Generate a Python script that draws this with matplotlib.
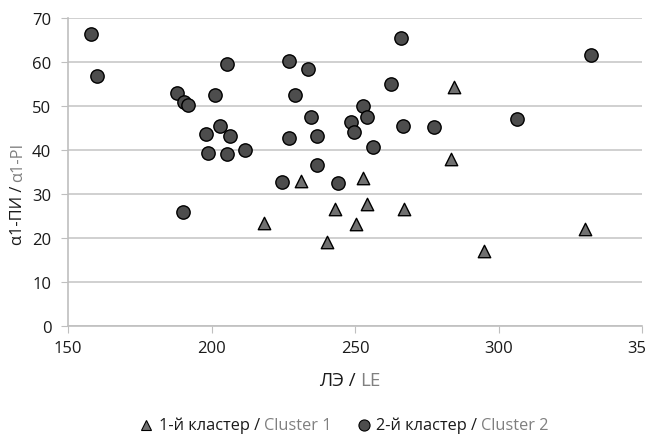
import matplotlib
matplotlib.use("Agg")
import matplotlib.pyplot as plt
from matplotlib.lines import Line2D

plt.rcParams['font.family'] = ['Open Sans', 'DejaVu Sans']

# Cluster 1 (triangles)
c1_x = [231.2, 284.5, 283.6, 252.8, 218.3, 240.3, 243.0, 254.1, 267.1, 250.5, 295.1, 330.2]
c1_y = [33.0, 54.4, 38.0, 33.6, 23.3, 19.1, 26.7, 27.7, 26.5, 23.1, 17.0, 22.0]

# Cluster 2 (circles)
c2_x = [158.0, 160.1, 188.0, 190.5, 191.7, 205.3, 201.2, 203.0, 198.0, 206.4, 198.8,
        205.3, 211.8, 226.9, 233.5, 229.0, 234.6, 226.9, 236.7, 236.9, 224.7, 266.1,
        332.3, 262.4, 252.8, 254.1, 248.6, 249.7, 266.8, 277.6, 306.4, 256.2, 244.2, 190.1]
c2_y = [66.4, 56.8, 52.9, 50.8, 50.3, 59.5, 52.4, 45.5, 43.6, 43.1, 39.3,
        39.0, 40.1, 60.2, 58.3, 52.5, 47.4, 42.8, 43.2, 36.6, 32.7, 65.4,
        61.7, 54.9, 50.0, 47.4, 46.4, 44.0, 45.5, 45.3, 47.1, 40.6, 32.6, 25.8]

x_ticks = [150, 200, 250, 300, 350]
y_ticks = [0, 10, 20, 30, 40, 50, 60, 70]

xlabel_parts = [("ЛЭ / ", "#1a1a1a"), ("LE", "#808080")]
ylabel_parts = [("α1-ПИ / ", "#1a1a1a"), ("α1-PI", "#808080")]
legend_1 = [("1-й кластер / ", "#1a1a1a"), ("Cluster 1", "#808080")]
legend_2 = [("2-й кластер / ", "#1a1a1a"), ("Cluster 2", "#808080")]

W, H = 645, 439
fig = plt.figure(figsize=(W / 100, H / 100), dpi=100)
ax = fig.add_axes([68 / W, (H - 327) / H, 574 / W, 308 / H])

TRI_FC = "#707070"
CIR_FC = "#4d4d4d"
ax.scatter(c2_x, c2_y, marker='o', s=92, facecolor=CIR_FC, edgecolor='black', linewidth=1.0, zorder=3)
ax.scatter(c1_x, c1_y, marker='^', s=80, facecolor=TRI_FC, edgecolor='black', linewidth=1.0, zorder=3)

ax.set_xlim(150, 350)
ax.set_ylim(0, 70)
ax.set_xticks(x_ticks)
ax.set_yticks(y_ticks)
ax.grid(axis='y', color='#c8c8c8', linewidth=1.2)
ax.set_axisbelow(True)
for s in ['top', 'right']:
    ax.spines[s].set_visible(False)
for s in ['left', 'bottom']:
    ax.spines[s].set_color('#bfbfbf')
    ax.spines[s].set_linewidth(1.2)
ax.tick_params(axis='x', length=5, color='#bfbfbf', labelsize=12, labelcolor='#1a1a1a', pad=5)
ax.tick_params(axis='y', length=5, color='#bfbfbf', labelsize=12, labelcolor='#1a1a1a', pad=7)

fig.canvas.draw()
renderer = fig.canvas.get_renderer()


def colored(parts, x, y, rotation=0, size=11.5, center=True):
    """Place multi-colored text pieces (pixel coords), centered at x,y."""
    texts = []
    for s, c in parts:
        t = fig.text(0, 0, s, color=c, fontsize=size, rotation=rotation,
                     ha='left', va='center', rotation_mode='anchor',
                     transform=None)
        texts.append(t)
    widths = []
    for t in texts:
        bb = t.get_window_extent(renderer)
        widths.append(bb.height if rotation == 90 else bb.width)
    total = sum(widths)
    pos = -total / 2 if center else 0
    for t, w in zip(texts, widths):
        if rotation == 90:
            t.set_position((x, H - y + pos))
        else:
            t.set_position((x + pos, H - y))
        pos += w
    return texts


colored(xlabel_parts, 350, 381, size=13.5)
colored(ylabel_parts, 18, 194, rotation=90, size=11.8)

# legend
fig.add_artist(Line2D([146 / W], [(H - 426) / H], marker='^', markersize=7.5,
                      markerfacecolor=TRI_FC, markeredgecolor='black', markeredgewidth=0.8,
                      linestyle='none', transform=fig.transFigure))
colored(legend_1, 159, 426, size=11.8, center=False)
fig.add_artist(Line2D([364 / W], [(H - 426) / H], marker='o', markersize=8,
                      markerfacecolor=CIR_FC, markeredgecolor='black', markeredgewidth=0.8,
                      linestyle='none', transform=fig.transFigure))
colored(legend_2, 376, 426, size=11.8, center=False)

fig.savefig("out.png", dpi=100)
